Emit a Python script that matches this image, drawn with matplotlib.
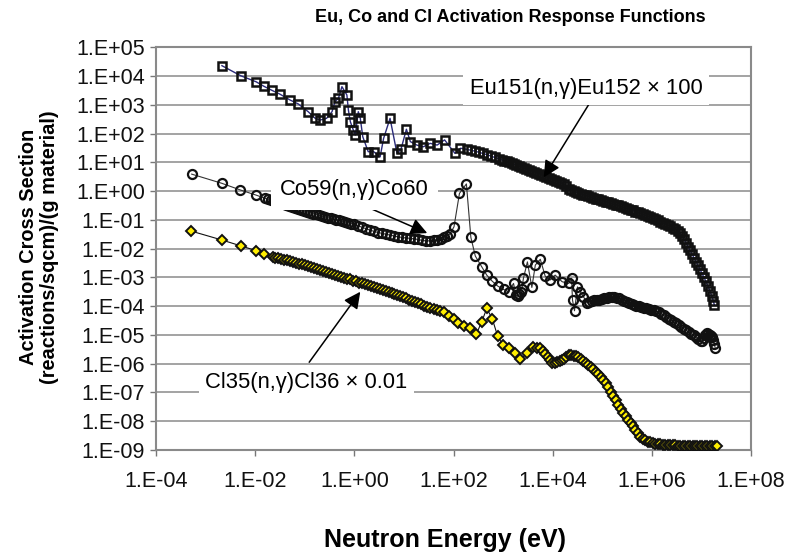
import numpy as np
import matplotlib.pyplot as plt
from matplotlib.ticker import FixedLocator, FuncFormatter, NullLocator

plt.rcParams["font.family"] = ["Liberation Sans", "DejaVu Sans"]

# Values are stored as log10(energy / eV) and log10(response)
eu_log_e = [-2.67, -2.29, -1.98, -1.83, -1.67, -1.50, -1.30, -1.13, -0.93, -0.79,
            -0.69, -0.56, -0.45, -0.39, -0.32, -0.25, -0.15, -0.12, -0.08, -0.02,
            0.02, 0.08, 0.12, 0.17, 0.28, 0.39, 0.52, 0.59, 0.72, 0.86,
            0.94, 1.05, 1.13, 1.26, 1.39, 1.53, 1.67, 1.82, 2.03, 2.14,
            2.27, 2.35, 2.43, 2.51, 2.59, 2.67, 2.75, 2.83, 2.91, 2.98,
            3.02, 3.07, 3.12, 3.17, 3.22, 3.27, 3.32, 3.37, 3.42, 3.47,
            3.52, 3.57, 3.62, 3.67, 3.72, 3.77, 3.82, 3.87, 3.92, 3.97,
            4.02, 4.07, 4.12, 4.17, 4.22, 4.27, 4.32, 4.37, 4.42, 4.47,
            4.52, 4.57, 4.62, 4.67, 4.72, 4.77, 4.82, 4.87, 4.92, 4.97,
            5.02, 5.07, 5.12, 5.17, 5.22, 5.27, 5.32, 5.37, 5.42, 5.47,
            5.52, 5.57, 5.62, 5.67, 5.72, 5.77, 5.82, 5.87, 5.92, 5.97,
            6.02, 6.07, 6.12, 6.17, 6.22, 6.27, 6.32, 6.37, 6.42, 6.47,
            6.52, 6.57, 6.61, 6.65, 6.69, 6.73, 6.77, 6.81, 6.85, 6.89,
            6.93, 6.97, 7.01, 7.05, 7.09, 7.13, 7.17, 7.21, 7.24, 7.26]
eu_log_xs = [4.36, 4.01, 3.80, 3.65, 3.51, 3.37, 3.17, 3.03, 2.76, 2.53,
             2.47, 2.53, 2.76, 3.11, 3.23, 3.63, 3.34, 2.82, 2.41, 2.12,
             1.95, 2.76, 2.53, 1.89, 1.37, 1.37, 1.19, 1.83, 2.53, 1.31,
             1.45, 2.15, 1.72, 1.60, 1.54, 1.66, 1.60, 1.78, 1.31, 1.49,
             1.45, 1.42, 1.39, 1.35, 1.31, 1.27, 1.22, 1.17, 1.13, 1.08,
             1.06, 1.03, 1.00, 0.97, 0.94, 0.90, 0.87, 0.84, 0.81, 0.77,
             0.74, 0.71, 0.68, 0.64, 0.61, 0.57, 0.54, 0.50, 0.47, 0.43,
             0.40, 0.36, 0.32, 0.28, 0.24, 0.18, 0.09, 0.03, 0.00, -0.03,
             -0.06, -0.09, -0.12, -0.15, -0.18, -0.21, -0.24, -0.27, -0.29, -0.32,
             -0.34, -0.37, -0.39, -0.42, -0.45, -0.47, -0.50, -0.53, -0.56, -0.59,
             -0.61, -0.64, -0.67, -0.71, -0.74, -0.77, -0.80, -0.84, -0.87, -0.91,
             -0.94, -0.98, -1.02, -1.06, -1.10, -1.14, -1.18, -1.22, -1.27, -1.31,
             -1.37, -1.45, -1.57, -1.68, -1.80, -1.93, -2.06, -2.19, -2.32, -2.45,
             -2.58, -2.72, -2.86, -3.00, -3.14, -3.30, -3.47, -3.66, -3.82, -3.96]

co_log_e = [-3.28, -2.67, -2.30, -1.98, -1.80, -1.74, -1.68, -1.62, -1.56, -1.50,
            -1.44, -1.38, -1.32, -1.26, -1.20, -1.14, -1.08, -1.02, -0.96, -0.90,
            -0.84, -0.78, -0.72, -0.66, -0.60, -0.54, -0.48, -0.42, -0.36, -0.30,
            -0.24, -0.18, -0.12, -0.06, 0.00, 0.08, 0.16, 0.24, 0.32, 0.40,
            0.48, 0.56, 0.64, 0.72, 0.80, 0.88, 0.96, 1.04, 1.12, 1.20,
            1.28, 1.36, 1.44, 1.52, 1.60, 1.67, 1.74, 1.80, 1.86, 1.93,
            2.01, 2.12, 2.26, 2.35, 2.44, 2.57, 2.67, 2.78, 2.89, 3.01,
            3.11, 3.21, 3.26, 3.30, 3.33, 3.36, 3.38, 3.41, 3.49, 3.58,
            3.65, 3.75, 3.85, 3.95, 4.05, 4.19, 4.32, 4.38, 4.40, 4.44,
            4.50, 4.56, 4.62, 4.69, 4.74, 4.79, 4.84, 4.89, 4.94, 4.99,
            5.04, 5.09, 5.14, 5.19, 5.24, 5.29, 5.34, 5.39, 5.44, 5.49,
            5.54, 5.59, 5.64, 5.69, 5.74, 5.79, 5.84, 5.89, 5.94, 5.99,
            6.04, 6.09, 6.14, 6.19, 6.24, 6.29, 6.34, 6.39, 6.44, 6.49,
            6.54, 6.59, 6.64, 6.69, 6.74, 6.79, 6.84, 6.89, 6.94, 6.99,
            7.02, 7.05, 7.08, 7.11, 7.14, 7.17, 7.20, 7.22, 7.24, 7.26,
            7.28]
co_log_xs = [0.59, 0.27, 0.04, -0.14, -0.25, -0.28, -0.31, -0.34, -0.37, -0.40,
             -0.43, -0.47, -0.51, -0.55, -0.59, -0.63, -0.66, -0.69, -0.72, -0.75,
             -0.78, -0.81, -0.84, -0.87, -0.90, -0.92, -0.95, -0.97, -1.00, -1.02,
             -1.05, -1.08, -1.10, -1.13, -1.16, -1.21, -1.26, -1.31, -1.36, -1.40,
             -1.44, -1.47, -1.50, -1.53, -1.56, -1.59, -1.61, -1.63, -1.64, -1.66,
             -1.68, -1.71, -1.73, -1.73, -1.71, -1.70, -1.66, -1.61, -1.56, -1.49,
             -1.24, -0.08, 0.25, -1.61, -2.26, -2.63, -2.92, -3.13, -3.30, -3.42,
             -3.50, -3.21, -3.62, -3.66, -3.58, -3.50, -3.40, -3.03, -2.46, -3.35,
             -2.57, -2.37, -2.96, -3.09, -2.92, -3.15, -3.21, -3.03, -3.79, -4.16,
             -3.33, -3.50, -3.67, -3.88, -3.85, -3.82, -3.80, -3.79, -3.77, -3.75,
             -3.73, -3.70, -3.68, -3.67, -3.67, -3.70, -3.73, -3.77, -3.81, -3.85,
             -3.89, -3.93, -3.96, -3.99, -4.01, -4.04, -4.06, -4.08, -4.10, -4.12,
             -4.14, -4.18, -4.22, -4.27, -4.32, -4.37, -4.43, -4.48, -4.54, -4.60,
             -4.66, -4.72, -4.78, -4.84, -4.90, -4.96, -5.01, -5.07, -5.14, -5.21,
             -5.22, -5.12, -5.02, -4.95, -4.97, -5.00, -5.04, -5.08, -5.18, -5.32,
             -5.47]

cl_log_e = [-3.29, -2.67, -2.28, -1.98, -1.82, -1.65, -1.59, -1.53, -1.47, -1.41,
            -1.35, -1.29, -1.23, -1.17, -1.11, -1.05, -0.99, -0.93, -0.87, -0.81,
            -0.75, -0.69, -0.63, -0.57, -0.51, -0.45, -0.39, -0.33, -0.27, -0.21,
            -0.15, -0.09, -0.03, 0.03, 0.09, 0.15, 0.21, 0.27, 0.33, 0.39,
            0.45, 0.51, 0.57, 0.63, 0.69, 0.75, 0.81, 0.87, 0.93, 0.99,
            1.05, 1.11, 1.17, 1.23, 1.29, 1.35, 1.41, 1.47, 1.53, 1.60,
            1.66, 1.72, 1.80, 1.90, 2.00, 2.10, 2.22, 2.34, 2.46, 2.57,
            2.67, 2.78, 2.89, 3.00, 3.11, 3.25, 3.35, 3.48, 3.61, 3.68,
            3.75, 3.80, 3.85, 3.90, 3.95, 3.99, 4.04, 4.09, 4.14, 4.18,
            4.22, 4.27, 4.32, 4.37, 4.42, 4.47, 4.52, 4.57, 4.62, 4.67,
            4.72, 4.77, 4.82, 4.87, 4.92, 4.97, 5.02, 5.07, 5.12, 5.17,
            5.22, 5.27, 5.32, 5.37, 5.42, 5.47, 5.52, 5.57, 5.62, 5.67,
            5.72, 5.77, 5.82, 5.87, 5.92, 5.97, 6.02, 6.07, 6.12, 6.17,
            6.22, 6.27, 6.32, 6.37, 6.42, 6.47, 6.52, 6.57, 6.62, 6.67,
            6.72, 6.77, 6.82, 6.87, 6.92, 6.97, 7.02, 7.07, 7.12, 7.17,
            7.22, 7.27, 7.32]
cl_log_xs = [-1.39, -1.70, -1.91, -2.07, -2.17, -2.28, -2.31, -2.33, -2.36, -2.39,
             -2.41, -2.44, -2.47, -2.49, -2.52, -2.55, -2.58, -2.61, -2.64, -2.67,
             -2.70, -2.74, -2.77, -2.80, -2.84, -2.87, -2.91, -2.94, -2.97, -3.01,
             -3.04, -3.07, -3.11, -3.14, -3.18, -3.21, -3.24, -3.28, -3.31, -3.34,
             -3.37, -3.41, -3.44, -3.47, -3.51, -3.54, -3.57, -3.61, -3.65, -3.69,
             -3.73, -3.77, -3.82, -3.86, -3.90, -3.94, -3.98, -4.02, -4.06, -4.10,
             -4.13, -4.16, -4.20, -4.33, -4.46, -4.60, -4.68, -4.77, -4.97, -4.54,
             -4.08, -4.43, -5.04, -5.36, -5.47, -5.62, -5.85, -5.64, -5.43, -5.44,
             -5.47, -5.55, -5.66, -5.76, -5.88, -5.97, -5.96, -5.94, -5.90, -5.86,
             -5.82, -5.76, -5.70, -5.70, -5.72, -5.74, -5.78, -5.84, -5.90, -5.97,
             -6.04, -6.12, -6.20, -6.29, -6.37, -6.46, -6.55, -6.67, -6.82, -6.97,
             -7.12, -7.27, -7.42, -7.56, -7.70, -7.83, -7.96, -8.07, -8.18, -8.30,
             -8.42, -8.54, -8.61, -8.66, -8.71, -8.74, -8.76, -8.78, -8.79, -8.80,
             -8.81, -8.82, -8.83, -8.83, -8.84, -8.84, -8.85, -8.85, -8.85, -8.85,
             -8.86, -8.86, -8.86, -8.86, -8.86, -8.86, -8.87, -8.87, -8.87, -8.87,
             -8.87, -8.87, -8.87]

x_decades = [-4, -2, 0, 2, 4, 6, 8]
y_decades = list(range(-9, 6))


def to_lin(vals):
    return np.power(10.0, np.asarray(vals))


fig = plt.figure(figsize=(7.95, 5.53), dpi=100)
ax = fig.add_axes([0.1962, 0.1863, 0.7485, 0.7282])
ax.set_xscale("log")
ax.set_yscale("log")
ax.set_xlim(1e-4, 1e8)
ax.set_ylim(1e-9, 1e5)

grid_c = "#8a8a8a"
for d in y_decades[1:-1]:
    ax.axhline(10.0 ** d, color=grid_c, lw=1.1, zorder=0)

ax.plot(to_lin(eu_log_e), to_lin(eu_log_xs), color="#2b2b7a", lw=1.0,
        marker="s", ms=6, mfc="none", mec="#111111", mew=1.8, zorder=3)
ax.plot(to_lin(co_log_e), to_lin(co_log_xs), color="#333333", lw=0.8,
        marker="o", ms=6.5, mfc="none", mec="#111111", mew=1.6, zorder=3)
ax.plot(to_lin(cl_log_e), to_lin(cl_log_xs), color="#111111", lw=0.8,
        marker="D", ms=4.8, mfc="#ffee00", mec="#111111", mew=1.4, zorder=3)

ax.xaxis.set_major_locator(FixedLocator([10.0 ** d for d in x_decades]))
ax.yaxis.set_major_locator(FixedLocator([10.0 ** d for d in y_decades]))
ax.xaxis.set_minor_locator(NullLocator())
ax.yaxis.set_minor_locator(NullLocator())
fmt = FuncFormatter(lambda v, p: "1.E{:+03d}".format(int(round(np.log10(v)))))
ax.xaxis.set_major_formatter(fmt)
ax.yaxis.set_major_formatter(fmt)
ax.tick_params(axis="both", direction="out", length=4, width=1, color="#777777",
               labelsize=15.5, labelcolor="#111111")
ax.tick_params(axis="x", pad=11)
ax.tick_params(axis="y", pad=4)
for s in ax.spines.values():
    s.set_color("#8a8a8a")
    s.set_linewidth(1.5)

# labels with arrows pointing at each curve
box = dict(boxstyle="square,pad=0.3", fc="white", ec="none")
arrow = dict(arrowstyle="-|>", color="black", lw=1.1, mutation_scale=25,
             shrinkA=0, shrinkB=0)

ax.annotate("", xy=(10 ** 3.82, 10 ** 0.48), xytext=(10 ** 4.82, 10 ** 3.27),
            arrowprops=arrow, zorder=5)
ax.text(10 ** 4.68, 10 ** 3.58, "Eu151(n,\u03b3)Eu152 \u00d7 100", fontsize=15.8,
        ha="center", va="center", bbox=box, zorder=6)

ax.annotate("", xy=(10 ** 1.47, 10 ** -1.46), xytext=(10 ** 0.12, 10 ** -0.45),
            arrowprops=arrow, zorder=5)
ax.text(10 ** 0.0, 10 ** 0.04, "Co59(n,\u03b3)Co60", fontsize=15.8,
        ha="center", va="center", zorder=6,
        bbox=dict(boxstyle="square,pad=0.42", fc="white", ec="none"))

ax.annotate("", xy=(10 ** 0.12, 10 ** -3.50), xytext=(10 ** -0.91, 10 ** -5.95),
            arrowprops=arrow, zorder=5)
ax.text(10 ** -0.97, 10 ** -6.64, "Cl35(n,\u03b3)Cl36 \u00d7 0.01", fontsize=15.8,
        ha="center", va="center", bbox=box, zorder=6)

fig.text(510 / 795, 1 - 18 / 553, "Eu, Co and Cl Activation Response Functions",
         ha="center", va="center", fontsize=13, fontweight="bold")
fig.text(445 / 795, 1 - 540 / 553, "Neutron Energy (eV)",
         ha="center", va="center", fontsize=18, fontweight="bold")
fig.text(39 / 795, 1 - 247 / 553,
         "Activation Cross Section\n(reactions/sqcm)/(g material)",
         ha="center", va="center", rotation=90, fontsize=14.4,
         fontweight="bold", linespacing=1.1)

fig.savefig("out.png", dpi=100)
